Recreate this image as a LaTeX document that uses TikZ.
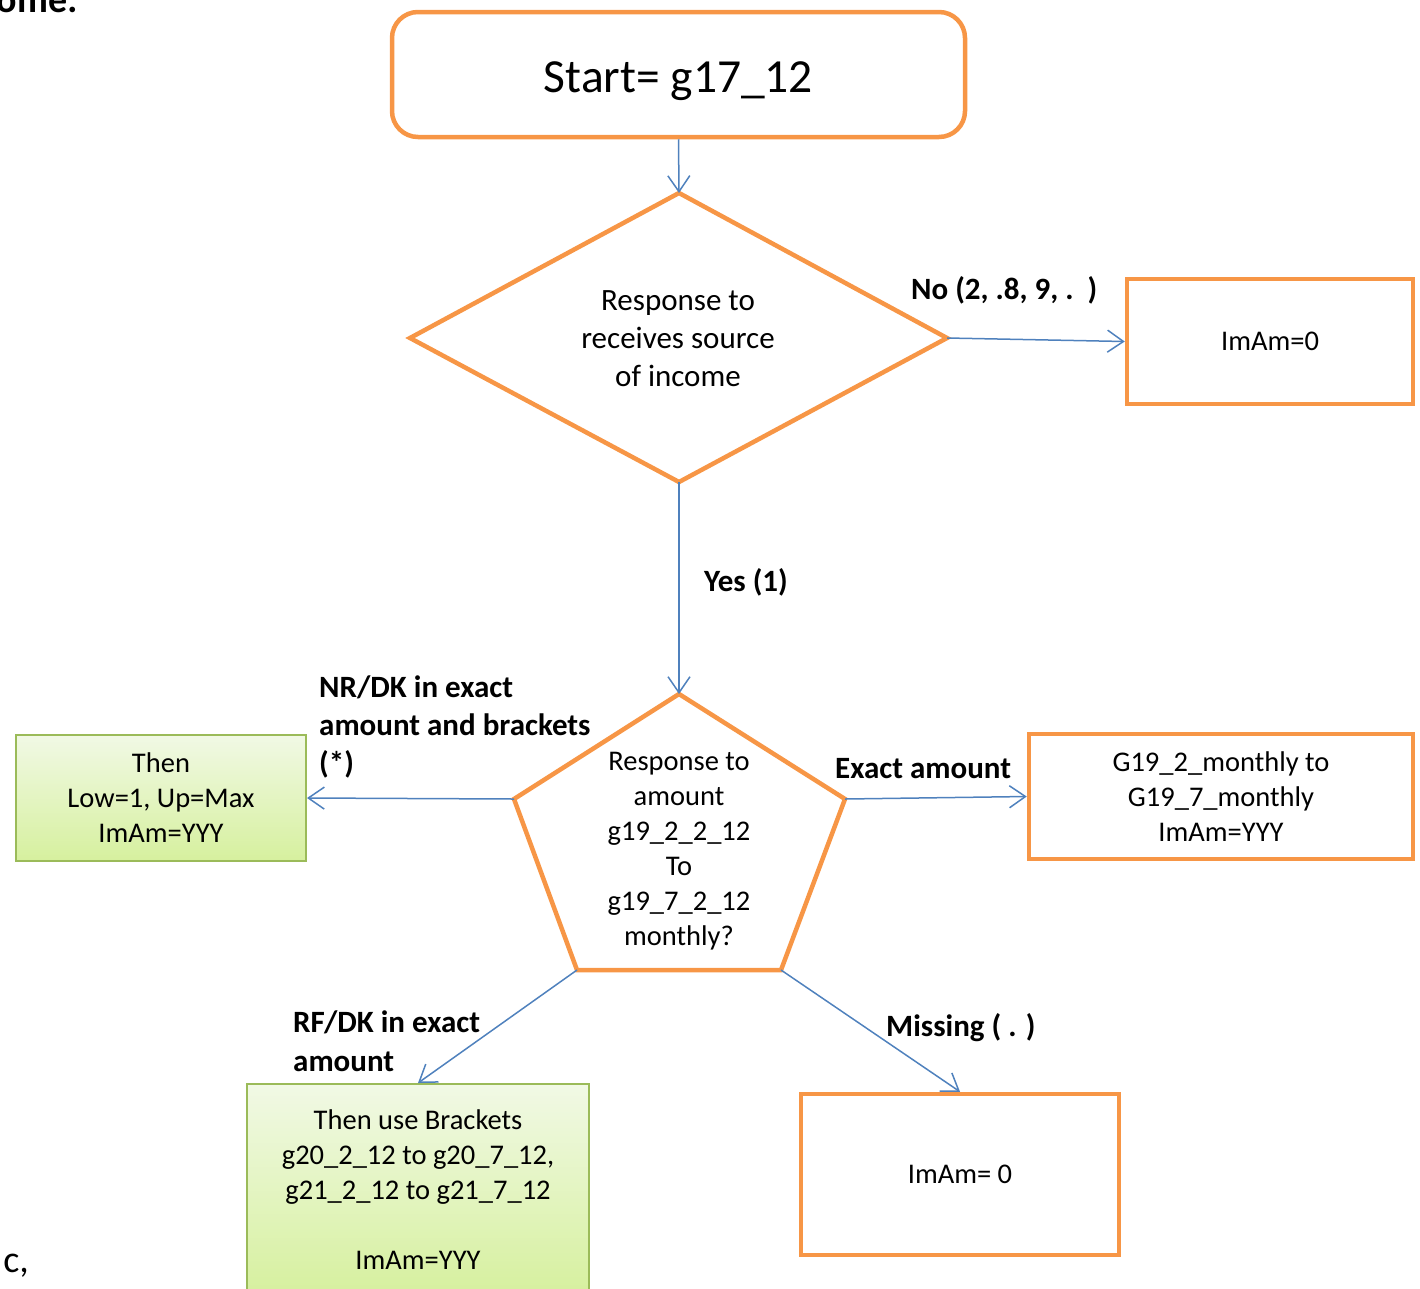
\documentclass[tikz,border=0pt]{standalone}
\usepackage{fontspec}
\setmainfont{Carlito}
\usetikzlibrary{arrows.meta}
\definecolor{orng}{HTML}{F79646}
\definecolor{blu}{HTML}{4F81BD}
\definecolor{grnb}{HTML}{9BBB59}
\definecolor{grntop}{RGB}{241,249,229}
\definecolor{grnbot}{RGB}{214,240,158}
\begin{document}
\begin{tikzpicture}[x=1pt,y=-1pt,
  orangebox/.style={draw=orng, line width=4.5pt, inner sep=0pt, align=center,
    font=\fontsize{28.5}{35}\selectfont},
  greenbox/.style={draw=grnb, line width=2pt, top color=grntop, bottom color=grnbot,
    inner sep=0pt, align=center, font=\fontsize{28.5}{35}\selectfont},
  shapeline/.style={draw=orng, line width=4.5pt, line join=miter},
  conn/.style={draw=blu, line width=1.5pt, -{Straight Barb[length=16pt,width=22pt,line width=1.5pt]}},
  lbl/.style={font=\bfseries\fontsize{31}{38}\selectfont, inner sep=0pt, align=left, anchor=west},
  body/.style={inner sep=0pt, align=center, font=\fontsize{28.5}{35}\selectfont}
]
\useasboundingbox (0,0) rectangle (1420,1288);

% cropped texts at the page edges
\node[inner sep=0pt, anchor=base east, font=\bfseries\fontsize{38}{46}\selectfont] (cut1) at (78,12) {ome:};
\node[inner sep=0pt, anchor=base east, font=\fontsize{38}{46}\selectfont] (cut2) at (29,1272) {c,};

% start box
\node[orangebox, rounded corners=26pt, minimum width=573pt, minimum height=125pt] (start) at (678.5,74.5) {};
\node[body, font=\fontsize{47.5}{56}\selectfont] (starttxt) at (678.5,81) {Start= g17\_12};

% decision diamond
\coordinate (dt) at (679,193);
\coordinate (dl) at (410,338);
\coordinate (dr) at (947,338);
\coordinate (db) at (679,482);
\draw[shapeline] (dt) -- (dr) -- (db) -- (dl) -- cycle;
\node[body, font=\fontsize{31}{38}\selectfont] (dtext) at (678,339) {Response to\\receives source\\of income};

% ImAm=0 box
\node[orangebox, minimum width=286pt, minimum height=125pt] (no) at (1270,341.5) {ImAm=0};

% pentagon
\coordinate (pt) at (679,694);
\coordinate (pl) at (514,799);
\coordinate (pr) at (845,799);
\coordinate (pbl) at (577,970);
\coordinate (pbr) at (781,970);
\draw[shapeline] (pt) -- (pr) -- (pbr) -- (pbl) -- (pl) -- cycle;
\node[body] (ptext) at (679,851) {Response to\\amount\\g19\_2\_2\_12\\To\\g19\_7\_2\_12\\monthly?};

% exact box
\node[orangebox, minimum width=384pt, minimum height=125pt] (exact) at (1221,796.5)
  {G19\_2\_monthly to\\G19\_7\_monthly\\ImAm=YYY};

% left green box
\node[greenbox, minimum width=290pt, minimum height=126pt] (nrdk) at (161,798)
  {Then\\Low=1, Up=Max\\ImAm=YYY};

% bottom green box
\node[greenbox, minimum width=342pt, minimum height=212pt] (rfdk) at (418,1190)
  {Then use Brackets\\g20\_2\_12 to g20\_7\_12,\\g21\_2\_12 to g21\_7\_12\\[35pt]ImAm=YYY};

% missing box
\node[orangebox, minimum width=318pt, minimum height=161pt] (miss) at (960,1174.5) {ImAm= 0};

% connectors
\draw[conn] (start.south) -- (dt);
\draw[conn] (dr) -- (no.west);
\draw[conn] (db) -- (pt);
\draw[conn] (pl) -- (nrdk.east);
\draw[conn] (pr) -- (exact.west);
\draw[conn] (pbl) -- (rfdk.north);
\draw[conn] (pbr) -- (miss.north);

% labels
\node[lbl] (lno) at (911,290) {No (2, .8, 9, .~~)};
\node[lbl] (lyes) at (704,582) {Yes (1)};
\node[lbl] (lnr) at (319,727) {NR/DK in exact\\amount and brackets\\(*)};
\node[lbl] (lex) at (835,769) {Exact amount};
\node[lbl, font=\bfseries\fontsize{31}{39}\selectfont] (lrf) at (293,1041) {RF/DK in exact\\amount};
\node[lbl] (lmiss) at (886,1028) {Missing ( . )};
\end{tikzpicture}
\end{document}
